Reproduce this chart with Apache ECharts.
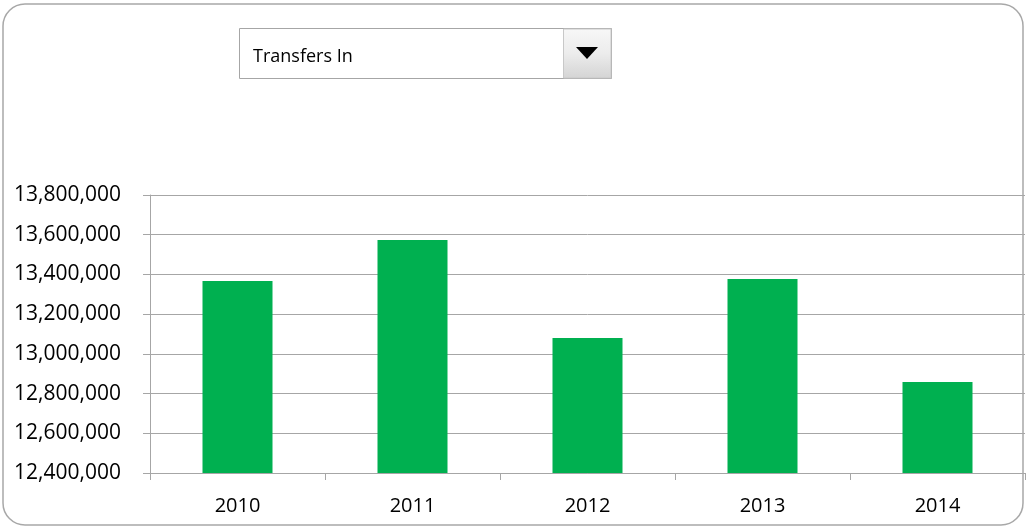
<!DOCTYPE html>
<html>
<head>
<meta charset="utf-8">
<title>Transfers In</title>
<script src="https://cdn.jsdelivr.net/npm/echarts@6/dist/echarts.min.js"></script>
<style>
    html, body { margin: 0; padding: 0; background: #fff; }
    #main { width: 1036px; height: 528px; }
</style>
</head>
<body>
<div id="main"></div>
<script>
var years = ['2010', '2011', '2012', '2013', '2014'];
var transfersIn = [13367000, 13573000, 13080000, 13377000, 12858000];
var yMin = 12400000;
var yMax = 13800000;
var yStep = 200000;
var selectedMeasure = 'Transfers In';

var lineGrey = '#a6a6a6';
var font = 'Open Sans';

var myChart = echarts.init(document.getElementById('main'));

var option = {
    animation: false,
    backgroundColor: '#fff',
    textStyle: { fontFamily: font },
    grid: { left: 150, right: 11, top: 195, bottom: 55 },
    xAxis: {
        type: 'category',
        data: years,
        axisLine: { lineStyle: { color: lineGrey, width: 1 } },
        axisTick: { show: true, length: 7, lineStyle: { color: lineGrey } },
        axisLabel: { color: '#000', fontSize: 20, margin: 23, fontFamily: font }
    },
    yAxis: {
        type: 'value',
        min: yMin,
        max: yMax,
        interval: yStep,
        axisLine: { show: true, lineStyle: { color: lineGrey, width: 1 } },
        axisTick: { show: true, length: 7, lineStyle: { color: lineGrey } },
        splitLine: { lineStyle: { color: lineGrey, width: 1 } },
        axisLabel: {
            color: '#000',
            fontSize: 21,
            margin: 29,
            padding: [5, 0, 0, 0],
            fontFamily: font,
            formatter: function (v) {
                return v.toString().replace(/\B(?=(\d{3})+(?!\d))/g, ',');
            }
        }
    },
    series: [
        {
            name: selectedMeasure,
            type: 'bar',
            data: transfersIn,
            barWidth: '40%',
            itemStyle: { color: '#00b050' }
        }
    ],
    graphic: [
        // outer rounded frame
        {
            type: 'rect',
            shape: { x: 3, y: 4, width: 1020, height: 521, r: 22 },
            style: { fill: 'none', stroke: '#a8a8a8', lineWidth: 1.5 },
            z: 100
        },
        // dropdown box
        {
            type: 'rect',
            shape: { x: 239.5, y: 28.5, width: 372, height: 50 },
            style: { fill: '#fff', stroke: '#a6a6a6', lineWidth: 1 },
            z: 100
        },
        {
            type: 'rect',
            shape: { x: 563.5, y: 29, width: 47.5, height: 49 },
            style: {
                fill: new echarts.graphic.LinearGradient(0, 0, 0, 1, [
                    { offset: 0, color: '#f7f7f7' },
                    { offset: 0.5, color: '#ececec' },
                    { offset: 1, color: '#d4d4d4' }
                ]),
                stroke: '#c8c8c8',
                lineWidth: 1
            },
            z: 101
        },
        {
            type: 'polygon',
            shape: { points: [[576, 47], [598, 47], [587, 59]] },
            style: { fill: '#000' },
            z: 102
        },
        {
            type: 'text',
            left: 253,
            top: 48,
            style: { text: selectedMeasure, fill: '#000', fontSize: 18, fontFamily: font },
            z: 102
        }
    ]
};

myChart.setOption(option);
</script>
</body>
</html>
